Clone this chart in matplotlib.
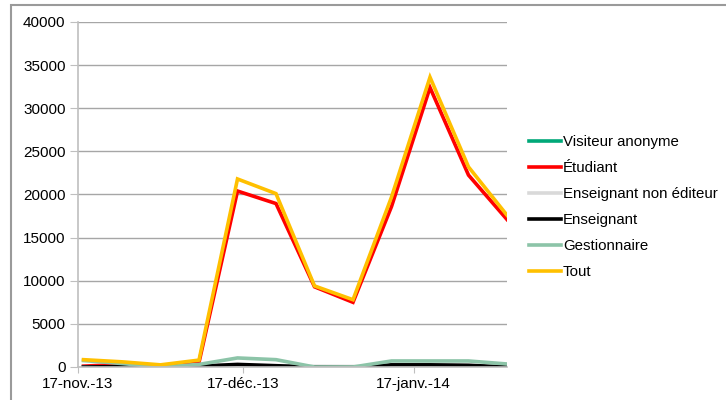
import numpy as np
import matplotlib
matplotlib.use("Agg")
import matplotlib.pyplot as plt
import matplotlib.dates as mdates
from matplotlib.patches import Rectangle

plt.rcParams['font.family'] = ['Liberation Sans', 'DejaVu Sans']

# weekly points (Mondays)
weeks = ["2013-11-18", "2013-11-25", "2013-12-02", "2013-12-09", "2013-12-16", "2013-12-23",
         "2013-12-30", "2014-01-06", "2014-01-13", "2014-01-20", "2014-01-27", "2014-02-03"]

visiteur = [20, 20, 10, 20, 50, 40, 10, -30, 30, 40, 30, 20]
etudiant = [100, 300, 100, 540, 20400, 18950, 9300, 7500, 18600, 32400, 22250, 17100]
ens_non_editeur = [30, 30, 20, 40, 60, 60, 80, 60, 60, 60, 50, 30]
enseignant = [0, 50, 0, 100, 300, 150, 0, -50, 250, 250, 200, 0]
gestionnaire = [750, 400, 0, 300, 1050, 850, 0, 0, 700, 700, 700, 350]
tout = [850, 600, 250, 800, 21800, 20100, 9400, 7800, 19700, 33600, 23200, 17600]

series_names = ["Visiteur anonyme", "Étudiant", "Enseignant non éditeur",
                "Enseignant", "Gestionnaire", "Tout"]
series_values = [visiteur, etudiant, ens_non_editeur, enseignant, gestionnaire, tout]
colors = ["#00A878", "#FF0000", "#D9D9D9", "#000000", "#8CC4A8", "#FFC000"]

tick_dates = ["2013-11-17", "2013-12-17", "2014-01-17"]
tick_labels = ["17-nov.-13", "17-déc.-13", "17-janv.-14"]

x = mdates.date2num(np.array(weeks, dtype="datetime64[D]"))
xt = mdates.date2num(np.array(tick_dates, dtype="datetime64[D]"))

fig = plt.figure(figsize=(7.26, 4.0), dpi=100)
ax = fig.add_axes([78 / 726, 1 - 367 / 400, (507 - 78) / 726, (367 - 22) / 400])

# outer chart frame
fig.patches.append(Rectangle((11 / 726, -0.05), 1.1, 1 - 5 / 400 + 0.05,
                             transform=fig.transFigure, fill=False,
                             edgecolor="#9A9A9A", linewidth=1.5))

for name, vals, c in zip(series_names, series_values, colors):
    ax.plot(x, vals, color=c, linewidth=2.6, label=name, solid_joinstyle="miter")

ax.set_ylim(0, 40000)
ax.set_yticks(np.arange(0, 40001, 5000))
ax.set_xlim(mdates.date2num(np.datetime64("2013-11-17")), mdates.date2num(np.datetime64("2014-02-03")))
ax.set_xticks(xt)
ax.set_xticklabels(tick_labels)

ax.grid(axis="y", color="#A6A6A6", linewidth=1.0)
ax.set_axisbelow(True)
for s in ["top", "right"]:
    ax.spines[s].set_visible(False)
ax.spines["left"].set_color("#BFBFBF")
ax.spines["bottom"].set_color("#BFBFBF")
ax.spines["left"].set_linewidth(1.2)
ax.spines["bottom"].set_linewidth(1.2)
ax.tick_params(axis="y", length=6, color="#BFBFBF", labelsize=11, pad=3)
ax.tick_params(axis="x", length=4, color="#BFBFBF", labelsize=11, pad=3)

leg = fig.legend(loc="upper left", bbox_to_anchor=(529 / 726, 1 - 135 / 400), frameon=False,
                 fontsize=10.8, handlelength=2.1, handletextpad=0.15, labelspacing=0.8,
                 borderaxespad=0, borderpad=0)

fig.savefig("out.png", dpi=100)
